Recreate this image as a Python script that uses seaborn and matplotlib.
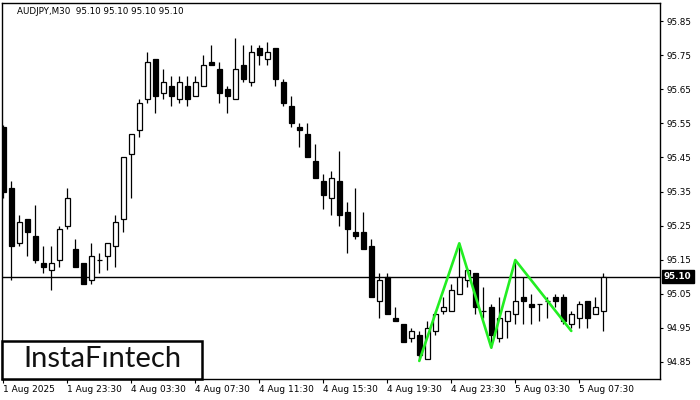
"""
AUDJPY M30 candlestick chart with a triple-top style pattern overlay.
"""
import matplotlib
matplotlib.use("Agg")
import matplotlib.pyplot as plt
import matplotlib.patches as patches
import matplotlib.transforms as mtransforms
import seaborn as sns
import pandas as pd

# OHLC per 30-minute bar
opens = [95.54, 95.36, 95.20, 95.27, 95.22, 95.14, 95.12, 95.15, 95.25, 95.18,
         95.14, 95.09, 95.15, 95.16, 95.19, 95.27, 95.46, 95.53, 95.62, 95.74,
         95.64, 95.66, 95.62, 95.66, 95.63, 95.66, 95.73, 95.71, 95.65, 95.62,
         95.72, 95.67, 95.77, 95.74, 95.77, 95.67, 95.60, 95.54, 95.52, 95.44,
         95.38, 95.33, 95.38, 95.29, 95.23, 95.23, 95.19, 95.03, 95.10, 94.98,
         94.96, 94.92, 94.93, 94.86, 94.94, 95.00, 95.00, 95.05, 95.09, 95.11,
         95.00, 95.01, 94.92, 94.97, 94.99, 95.04, 95.02, 95.02, 95.03, 95.04,
         95.04, 94.96, 94.98, 95.03, 94.99, 95.00]
highs = [95.545, 95.38, 95.28, 95.27, 95.31, 95.19, 95.19, 95.25, 95.36, 95.21,
         95.14, 95.20, 95.17, 95.20, 95.28, 95.45, 95.52, 95.62, 95.76, 95.74,
         95.71, 95.69, 95.69, 95.69, 95.69, 95.75, 95.78, 95.73, 95.66, 95.80,
         95.78, 95.78, 95.78, 95.79, 95.77, 95.68, 95.63, 95.55, 95.55, 95.49,
         95.40, 95.41, 95.47, 95.32, 95.36, 95.29, 95.21, 95.11, 95.11, 95.01,
         94.96, 94.95, 94.94, 94.97, 95.00, 95.04, 95.08, 95.20, 95.125, 95.11,
         95.07, 95.02, 95.04, 95.00, 95.15, 95.10, 95.05, 95.02, 95.04, 95.05,
         95.05, 95.00, 95.03, 95.03, 95.04, 95.11]
lows = [95.33, 95.09, 95.19, 95.16, 95.14, 95.11, 95.06, 95.13, 95.24, 95.13,
        95.08, 95.08, 95.11, 95.12, 95.13, 95.23, 95.33, 95.51, 95.61, 95.58,
        95.62, 95.60, 95.61, 95.60, 95.63, 95.66, 95.72, 95.61, 95.58, 95.62,
        95.67, 95.66, 95.72, 95.72, 95.66, 95.60, 95.54, 95.48, 95.45, 95.39,
        95.30, 95.28, 95.25, 95.17, 95.21, 95.18, 95.04, 94.98, 94.99, 94.97,
        94.91, 94.91, 94.86, 94.86, 94.93, 94.99, 95.00, 95.05, 95.07, 94.99,
        94.98, 94.89, 94.91, 94.92, 94.96, 94.96, 94.96, 94.97, 94.98, 95.01,
        94.96, 94.95, 94.95, 94.95, 94.99, 94.94]
closes = [95.35, 95.19, 95.26, 95.23, 95.15, 95.13, 95.14, 95.24, 95.33, 95.13,
          95.08, 95.16, 95.15, 95.20, 95.26, 95.45, 95.52, 95.61, 95.73, 95.63,
          95.67, 95.63, 95.67, 95.62, 95.67, 95.72, 95.72, 95.64, 95.63, 95.71,
          95.68, 95.76, 95.75, 95.76, 95.68, 95.61, 95.55, 95.53, 95.45, 95.39,
          95.34, 95.39, 95.28, 95.24, 95.22, 95.18, 95.04, 95.09, 94.99, 94.97,
          94.91, 94.94, 94.87, 94.95, 94.99, 95.01, 95.06, 95.10, 95.12, 95.01,
          95.00, 94.93, 94.98, 95.00, 95.03, 95.03, 95.01, 95.02, 95.03, 95.03,
          94.97, 94.99, 95.02, 94.98, 95.01, 95.10]

# pattern outline (bar index, price)
pattern_idx = [52, 57, 61, 64, 71]
pattern_price = [94.853, 95.198, 94.892, 95.149, 94.941]

tick_idx = [0, 8, 16, 24, 32, 40, 48, 56, 64, 72]
tick_labels = ["1 Aug 2025", "1 Aug 23:30", "4 Aug 03:30", "4 Aug 07:30",
               "4 Aug 11:30", "4 Aug 15:30", "4 Aug 19:30", "4 Aug 23:30",
               "5 Aug 03:30", "5 Aug 07:30"]
price_ticks = [95.85, 95.75, 95.65, 95.55, 95.45, 95.35, 95.25, 95.15,
               95.05, 94.95, 94.85]
last_price = 95.10

df = pd.DataFrame({"open": opens, "high": highs, "low": lows, "close": closes})
df["idx"] = range(len(df))
up = df["close"] >= df["open"]

sns.set_style("white")
plt.rcParams["font.family"] = ["DejaVu Sans"]

fig = plt.figure(figsize=(7, 4), dpi=100)
ax = fig.add_axes([2 / 700, 21 / 400, 658 / 700, 376 / 400])

# wicks
ax.vlines(df["idx"], df["low"], df["high"], color="black", lw=0.9, zorder=2)
# bodies
ax.bar(df["idx"], df["close"] - df["open"], bottom=df["open"], width=0.6,
       color=["white" if u else "black" for u in up], edgecolor="black",
       linewidth=0.9, zorder=3)

ax.axhline(last_price, color="black", lw=1.0, zorder=1)

pat = pd.DataFrame({"idx": pattern_idx, "price": pattern_price})
sns.lineplot(data=pat, x="idx", y="price", color="#22ee22", lw=1.9,
             sort=False, ax=ax, zorder=4)

ax.set_xlim(-0.16, 82.09)
ax.set_ylim(94.800, 95.903)
ax.set_xlabel("")
ax.set_ylabel("")

ax.set_xticks(tick_idx)
ax.set_xticklabels(tick_labels)
for lab in ax.get_xticklabels():
    lab.set_ha("left")
ax.yaxis.tick_right()
ax.set_yticks(price_ticks)
ax.set_yticklabels([f"{p:.2f}" for p in price_ticks])
ax.tick_params(axis="x", length=3, width=0.8, pad=1.5, labelsize=6.5,
               colors="black", bottom=True)
ax.tick_params(axis="y", length=2.5, width=0.8, pad=2, labelsize=6.3,
               colors="black", right=True, left=False)
for s in ax.spines.values():
    s.set_color("black")
    s.set_linewidth(1.0)

# last price tag on the right scale
trans = mtransforms.blended_transform_factory(ax.transAxes, ax.transData)
ax.text(1.006, last_price, "95.10", transform=trans, color="white",
        fontsize=6.3, fontweight="bold", va="center", ha="left",
        bbox=dict(boxstyle="square,pad=0.25", fc="black", ec="black"))

fig.text(17 / 700, 1 - 11 / 400, "AUDJPY,M30  95.10 95.10 95.10 95.10",
         fontsize=6.3, va="center", ha="left", color="black")

# logo box
fig.patches.append(patches.Rectangle((2 / 700, 21 / 400), 200 / 700, 38 / 400,
                                     transform=fig.transFigure, fc="white",
                                     ec="black", lw=1.8, zorder=10))
fig.text(102 / 700, 1 - 359 / 400, "InstaFıntech", family=["Lato", "DejaVu Sans"],
         fontsize=21, ha="center", va="center", color="#111111", zorder=11)

fig.savefig("out.png", dpi=100)
